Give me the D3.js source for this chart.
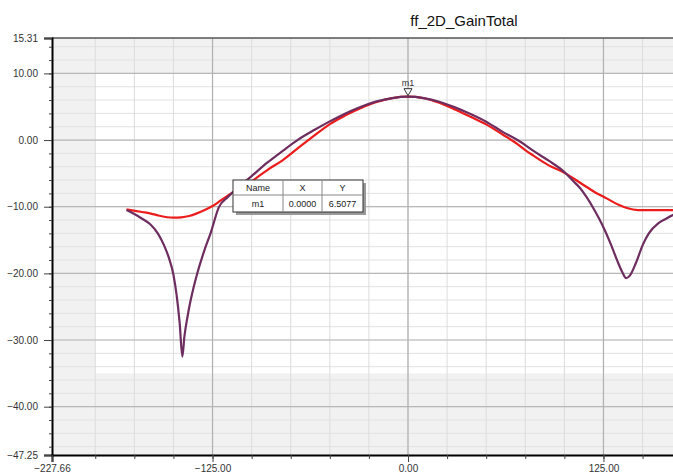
<!DOCTYPE html>
<html><head><meta charset="utf-8">
<script src="https://cdn.jsdelivr.net/npm/d3@7"></script>
<style>body{margin:0;background:#fff;}svg{display:block;font-family:"Liberation Sans",Arial,sans-serif;}</style>
</head><body><svg id="c" width="673" height="474"></svg>
<script>
const title = "ff_2D_GainTotal";
const xDomain = [-227.66, 227.66];
const yDomain = [-47.25, 15.31];
const yTickValues = [15.31, 10, 0, -10, -20, -30, -40, -47.25];
const xTickValues = [-227.66, -125, 0, 125];

// purple curve (theta, dB)
const purpleX = [-180,-175,-170,-165,-160,-156,-153,-150,-148,-146,-144.3,-143,-141,-140,-137,-135,-130,-126,-121,-115,-110,-105,-100,-90,-80,-70,-60,-50,-40,-30,-20,-10,0,10,20,30,40,50,60,70,75,80,90,100,105,110,114,118,122,126,130,134,137,139.5,142,146,150,154,160,165,170,175,180];
const purpleY = [-10.5,-11.1,-11.8,-12.6,-14.0,-15.8,-17.6,-20.2,-23.2,-27.5,-32.5,-29.5,-26.5,-25.2,-22.0,-20.2,-16.4,-13.8,-10.1,-8.5,-7.4,-6.4,-5.4,-3.4,-1.6,0.1,1.5,2.8,4.0,5.0,5.8,6.3,6.5077,6.3,5.75,4.9,3.9,2.75,1.3,0,-0.75,-1.6,-3.1,-4.8,-6.0,-7.2,-8.5,-10.0,-11.7,-13.6,-15.8,-18.2,-19.8,-20.7,-20.3,-18.3,-15.8,-14.0,-12.5,-11.8,-11.2,-10.8,-10.5];

// red curve (theta, dB)
const redX = [-180,-170,-165,-160,-150,-145,-140,-135,-130,-125,-120,-115,-110,-100,-90,-80,-70,-60,-50,-40,-30,-20,-10,0,10,20,30,40,50,60,70,75,80,90,100,110,114,120,127,135,140,147,150,160,170,180];
const redY = [-10.4,-10.8,-11.0,-11.3,-11.65,-11.6,-11.4,-11.0,-10.5,-9.9,-9.1,-8.3,-7.55,-6.2,-4.5,-3.0,-1.15,0.65,2.4,3.7,4.8,5.7,6.3,6.5,6.3,5.6,4.6,3.5,2.35,0.9,-0.6,-1.5,-2.3,-3.8,-4.9,-6.4,-7.0,-7.9,-8.75,-9.75,-10.2,-10.5,-10.5,-10.5,-10.5,-10.5];

const marker = {name:"m1", x:0, y:6.5077, xs:"0.0000", ys:"6.5077"};

const svg = d3.select("#c");
const L = 52, T = 38, B = 455;
const x = d3.scaleLinear().domain(xDomain).range([L, L + 2*(408-L)]);
const y = d3.scaleLinear().domain(yDomain).range([B, T]);
const W = 673;

// backgrounds
svg.append("rect").attr("x",L).attr("y",T).attr("width",W-L).attr("height",B-T).attr("fill","#f1f1f1");
svg.append("rect").attr("x",x(-200)).attr("y",y(10)).attr("width",x(200)-x(-200)).attr("height",y(-35)-y(10)).attr("fill","#ffffff");

const g = svg.append("g");
const yMinor = d3.range(-46, 15.31, 2);
g.selectAll(".hm").data(yMinor).join("line")
  .attr("x1",L).attr("x2",W).attr("y1",d=>y(d)).attr("y2",d=>y(d))
  .attr("stroke","#e2e2e2").attr("stroke-width",1);
const xMinor = d3.range(-200, 227.66, 25);
g.selectAll(".vm").data(xMinor).join("line")
  .attr("x1",d=>x(d)).attr("x2",d=>x(d)).attr("y1",T).attr("y2",B)
  .attr("stroke","#dcdcdc").attr("stroke-width",1);
g.selectAll(".hM").data([10,0,-10,-20,-30,-40]).join("line")
  .attr("x1",L).attr("x2",W).attr("y1",d=>y(d)).attr("y2",d=>y(d))
  .attr("stroke","#b8b8b8").attr("stroke-width",1.2);
g.selectAll(".vM").data([-125,0,125]).join("line")
  .attr("x1",d=>x(d)).attr("x2",d=>x(d)).attr("y1",T).attr("y2",B)
  .attr("stroke","#b0b0b0").attr("stroke-width",1.2);
svg.append("line").attr("x1",L).attr("x2",W).attr("y1",T).attr("y2",T).attr("stroke","#555").attr("stroke-width",1.5);

// axes
const yAxis = d3.axisLeft(y).tickValues(yTickValues).tickFormat(d3.format(".2f")).tickSize(8).tickPadding(6);
const ya = svg.append("g").attr("transform",`translate(${L},0)`).call(yAxis);
ya.select(".domain").attr("stroke","#000").attr("stroke-width",2);
ya.selectAll(".tick line").attr("stroke","#444");
ya.selectAll("text").attr("font-size",10).attr("fill","#333").attr("font-family","Liberation Sans, Arial, sans-serif");
const yMinorAxis = d3.axisLeft(y).tickValues(yMinor).tickFormat("").tickSize(3);
const yma = svg.append("g").attr("transform",`translate(${L},0)`).call(yMinorAxis);
yma.select(".domain").remove(); yma.selectAll(".tick line").attr("stroke","#444");

const xAxis = d3.axisBottom(x).tickValues(xTickValues).tickFormat(d3.format(".2f")).tickSize(7).tickPadding(3);
const xa = svg.append("g").attr("transform",`translate(0,${B})`).call(xAxis);
xa.select(".domain").attr("stroke","#000").attr("stroke-width",2);
xa.selectAll(".tick line").attr("stroke","#444");
xa.selectAll("text").attr("font-size",10).attr("fill","#333").attr("font-family","Liberation Sans, Arial, sans-serif");
const xMinorAxis = d3.axisBottom(x).tickValues(xMinor).tickFormat("").tickSize(4);
const xma = svg.append("g").attr("transform",`translate(0,${B})`).call(xMinorAxis);
xma.select(".domain").remove(); xma.selectAll(".tick line").attr("stroke","#444");

// title
svg.append("text").attr("x",464).attr("y",26).attr("text-anchor","middle")
  .attr("font-size",15).attr("fill","#111").text(title);

// curves
const line = d3.line().x(d=>x(d[0])).y(d=>y(d[1])).curve(d3.curveMonotoneX);
svg.append("clipPath").attr("id","pc").append("rect").attr("x",L).attr("y",T).attr("width",W-L).attr("height",B-T);
svg.append("path").datum(d3.zip(redX, redY)).attr("d",line)
  .attr("fill","none").attr("stroke","#ec1c1c").attr("stroke-width",2.2).attr("clip-path","url(#pc)");
svg.append("path").datum(d3.zip(purpleX, purpleY)).attr("d",line)
  .attr("fill","none").attr("stroke","#6e2d5f").attr("stroke-width",2.2).attr("clip-path","url(#pc)");

// marker
const mx = x(marker.x), my = y(marker.y);
svg.append("path").attr("d",`M${mx-4},${my-8}L${mx+4},${my-8}L${mx},${my-1}Z`)
  .attr("fill","#fff").attr("stroke","#333").attr("stroke-width",1);
svg.append("text").attr("x",mx).attr("y",my-11).attr("text-anchor","middle")
  .attr("font-size",9).attr("fill","#333").text(marker.name);

// data box
const bx = 233, by = 180, bw = 130, bh = 32, c1 = 283, c2 = 322, rh = 15;
svg.append("rect").attr("x",bx+3).attr("y",by+3).attr("width",bw).attr("height",bh).attr("fill","#9a9a9a");
svg.append("rect").attr("x",bx).attr("y",by).attr("width",bw).attr("height",bh).attr("fill","#fff").attr("stroke","#333").attr("stroke-width",1);
svg.append("line").attr("x1",bx).attr("x2",bx+bw).attr("y1",by+rh).attr("y2",by+rh).attr("stroke","#888");
[c1,c2].forEach(c=>svg.append("line").attr("x1",c).attr("x2",c).attr("y1",by).attr("y2",by+bh).attr("stroke","#888"));
const cells = [["Name",(bx+c1)/2],["X",(c1+c2)/2],["Y",(c2+bx+bw)/2]];
cells.forEach(([t,cx])=>svg.append("text").attr("x",cx).attr("y",by+11).attr("text-anchor","middle").attr("font-size",9).attr("fill","#222").text(t));
[[marker.name,(bx+c1)/2],[marker.xs,(c1+c2)/2],[marker.ys,(c2+bx+bw)/2]].forEach(([t,cx])=>
  svg.append("text").attr("x",cx).attr("y",by+rh+12).attr("text-anchor","middle").attr("font-size",9).attr("fill","#222").text(t));
</script></body></html>
